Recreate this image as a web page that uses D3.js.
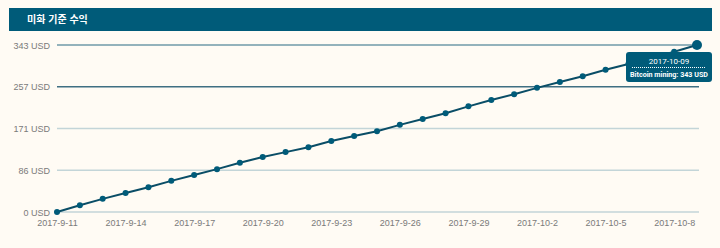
<!DOCTYPE html>
<html lang="ko">
<head>
    <meta charset="UTF-8">
    <title>미화 기준 수익</title>
    <script src="https://cdnjs.cloudflare.com/ajax/libs/d3/7.8.5/d3.min.js"></script>
    <style>
        body {
            margin: 0;
            background: #fffbf4;
            font-family: "Open Sans", "Noto Sans", sans-serif;
        }
        .tick text { fill: #7a7a7a; font-size: 9px; }
    </style>
</head>
<body>
    <svg id="chart" width="720" height="248"></svg>

    <script>
        // Data
        const title = "미화 기준 수익";
        const seriesName = "Bitcoin mining";
        const dates = [
            "2017-09-11", "2017-09-12", "2017-09-13", "2017-09-14", "2017-09-15", "2017-09-16",
            "2017-09-17", "2017-09-18", "2017-09-19", "2017-09-20", "2017-09-21", "2017-09-22",
            "2017-09-23", "2017-09-24", "2017-09-25", "2017-09-26", "2017-09-27", "2017-09-28",
            "2017-09-29", "2017-09-30", "2017-10-01", "2017-10-02", "2017-10-03", "2017-10-04",
            "2017-10-05", "2017-10-06", "2017-10-07", "2017-10-08", "2017-10-09"
        ];
        const earnings = [
            0, 14, 27, 39, 51, 64, 76, 88, 101, 113, 123, 133, 146, 156, 166,
            179, 191, 203, 217, 230, 242, 255, 267, 279, 292, 304, 316, 329, 343
        ];
        const yTickValues = [0, 85.75, 171.5, 257.25, 343];
        const yTickLabels = ["0 USD", "86 USD", "171 USD", "257 USD", "343 USD"];
        const xTickDates = ["2017-09-11", "2017-09-14", "2017-09-17", "2017-09-20", "2017-09-23",
                            "2017-09-26", "2017-09-29", "2017-10-02", "2017-10-05", "2017-10-08"];
        const xTickLabels = ["2017-9-11", "2017-9-14", "2017-9-17", "2017-9-20", "2017-9-23",
                             "2017-9-26", "2017-9-29", "2017-10-2", "2017-10-5", "2017-10-8"];

        const parse = d3.timeParse("%Y-%m-%d");
        const data = dates.map((d, i) => ({ date: parse(d), value: earnings[i], key: d }));

        const svg = d3.select("#chart");
        const dark = "#005b79";

        // Title bar
        svg.append("rect")
            .attr("x", 9).attr("y", 8)
            .attr("width", 703).attr("height", 23)
            .attr("fill", dark);
        svg.append("text")
            .attr("x", 27).attr("y", 23)
            .attr("fill", "#fff")
            .attr("font-size", "10px")
            .attr("font-weight", "bold")
            .attr("font-family", "'Noto Sans CJK KR', sans-serif")
            .text(title);

        const x = d3.scaleTime()
            .domain(d3.extent(data, d => d.date))
            .range([57, 697]);
        const y = d3.scaleLinear()
            .domain([0, 343])
            .range([212, 45]);

        // Grid lines
        const gridColor = i => i === 4 ? "#6f9aa9" : (i === 3 ? "#3f6f82" : "#c3d5d8");
        svg.append("g")
            .selectAll("line")
            .data(yTickValues)
            .enter()
            .append("line")
            .attr("x1", 57).attr("x2", 699)
            .attr("y1", d => y(d)).attr("y2", d => y(d))
            .attr("stroke", (d, i) => gridColor(i))
            .attr("stroke-width", 1.5);

        // Y axis
        const yAxis = svg.append("g")
            .attr("transform", "translate(50,0)")
            .call(d3.axisLeft(y)
                .tickValues(yTickValues)
                .tickFormat((d, i) => yTickLabels[i])
                .tickSize(0)
                .tickPadding(0));
        yAxis.select(".domain").remove();
        yAxis.selectAll("text").attr("dy", "0.35em");

        // X axis
        const xAxis = svg.append("g")
            .attr("transform", "translate(0,219)")
            .call(d3.axisBottom(x)
                .tickValues(xTickDates.map(parse))
                .tickFormat((d, i) => xTickLabels[i])
                .tickSize(0)
                .tickPadding(0));
        xAxis.select(".domain").remove();
        xAxis.selectAll("text").attr("dy", "0.75em");

        // Line
        const line = d3.line()
            .x(d => x(d.date))
            .y(d => y(d.value));

        svg.append("path")
            .datum(data)
            .attr("fill", "none")
            .attr("stroke", "#0a4d66")
            .attr("stroke-width", 2)
            .attr("d", line);

        svg.append("g")
            .selectAll("circle")
            .data(data)
            .enter()
            .append("circle")
            .attr("cx", d => x(d.date))
            .attr("cy", d => y(d.value))
            .attr("r", (d, i) => i === data.length - 1 ? 5 : 3)
            .attr("fill", dark);

        // Tooltip for the last point
        const last = data[data.length - 1];
        const tx = x(last.date) - 71, ty = y(last.value) + 7;
        const tip = svg.append("g").attr("transform", `translate(${tx},${ty})`);
        tip.append("rect")
            .attr("width", 86).attr("height", 30)
            .attr("rx", 3)
            .attr("fill", dark);
        tip.append("text")
            .attr("x", 43).attr("y", 12)
            .attr("text-anchor", "middle")
            .attr("fill", "#fff")
            .attr("font-size", "8px")
            .attr("font-family", "Roboto, sans-serif")
            .text(last.key);
        tip.append("line")
            .attr("x1", 6).attr("x2", 80)
            .attr("y1", 15.5).attr("y2", 15.5)
            .attr("stroke", "#fff")
            .attr("stroke-dasharray", "1,1");
        const label = tip.append("g").attr("transform", "translate(43,25)");
        const labelText = label.append("text")
            .attr("text-anchor", "middle")
            .attr("fill", "#fff")
            .attr("font-size", "8px")
            .attr("font-weight", "bold")
            .attr("font-family", "Roboto, sans-serif")
            .text(`${seriesName}: ${last.value} USD`);
        // squeeze the label to fit the box like the condensed original font
        const w = labelText.node().getComputedTextLength();
        if (w > 78) label.attr("transform", `translate(43,25) scale(${78 / w},1)`);
    </script>
</body>
</html>
